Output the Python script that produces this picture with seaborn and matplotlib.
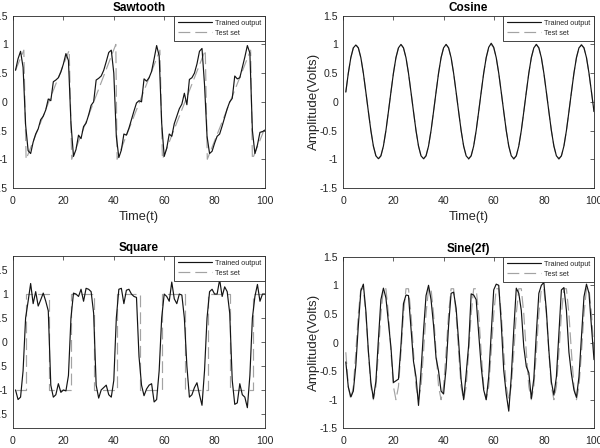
import matplotlib
matplotlib.use("Agg")
import matplotlib.pyplot as plt
import seaborn as sns

# ---------------- data ----------------
time = list(range(1, 101))

saw_trained = [0.55, 0.75, 0.88, 0.6, -0.4, -0.85, -0.9, -0.7, -0.56, -0.47,
               -0.31, -0.25, -0.14, 0.05, 0.02, 0.35, 0.38, 0.42, 0.52, 0.66,
               0.84, 0.72, -0.37, -0.95, -0.83, -0.58, -0.64, -0.43, -0.37, -0.23,
               -0.06, 0.0, 0.38, 0.41, 0.45, 0.55, 0.7, 0.86, 0.9, 0.5,
               -0.6, -0.97, -0.84, -0.56, -0.58, -0.46, -0.31, -0.16, -0.02, 0.02,
               0.0, 0.4, 0.36, 0.42, 0.53, 0.75, 0.98, 0.8, -0.37, -0.95,
               -0.81, -0.56, -0.6, -0.38, -0.25, -0.12, -0.04, 0.15, -0.05, 0.39,
               0.42, 0.5, 0.66, 0.88, 0.93, 0.3, -0.6, -0.9, -0.86, -0.72,
               -0.6, -0.56, -0.42, -0.27, -0.12, 0.0, 0.06, 0.45, 0.4, 0.42,
               0.6, 0.78, 0.98, 0.85, -0.5, -0.9, -0.75, -0.53, -0.52, -0.49]
saw_test_t = [1, 4.3, 5.2, 22.3, 23.3, 40.8, 41.3, 58.3, 59.3, 76.3, 77.1, 94.3, 95, 100]
saw_test = [0.55, 0.9, -1, 0.9, -1, 1.0, -1, 0.9, -1, 0.9, -1, 0.9, -1, -0.45]

cos_trained = [0.17, 0.5, 0.77, 0.94, 0.99, 0.94, 0.77, 0.5, 0.17, -0.17, -0.5, -0.77, -0.94, -0.99, -0.94, -0.77, -0.5, -0.17,
               0.17, 0.5, 0.77, 0.94, 1.0, 0.94, 0.77, 0.5, 0.17, -0.17, -0.5, -0.77, -0.94, -0.99, -0.94, -0.77, -0.5, -0.17,
               0.17, 0.5, 0.77, 0.94, 1.0, 0.94, 0.77, 0.5, 0.17, -0.17, -0.5, -0.77, -0.94, -0.99, -0.94, -0.77, -0.5, -0.17,
               0.17, 0.5, 0.77, 0.95, 1.02, 0.95, 0.77, 0.5, 0.17, -0.17, -0.5, -0.77, -0.94, -0.99, -0.94, -0.77, -0.5, -0.17,
               0.17, 0.5, 0.77, 0.94, 1.0, 0.94, 0.77, 0.5, 0.17, -0.17, -0.5, -0.77, -0.94, -0.99, -0.94, -0.77, -0.5, -0.17,
               0.17, 0.5, 0.77, 0.94, 0.99, 0.94, 0.77, 0.5, 0.17, -0.17]
cos_test = [0.17, 0.5, 0.77, 0.94, 1.0, 0.94, 0.77, 0.5, 0.17, -0.17, -0.5, -0.77, -0.94, -1.0, -0.94, -0.77, -0.5, -0.17,
            0.17, 0.5, 0.77, 0.94, 1.0, 0.94, 0.77, 0.5, 0.17, -0.17, -0.5, -0.77, -0.94, -1.0, -0.94, -0.77, -0.5, -0.17,
            0.17, 0.5, 0.77, 0.94, 1.0, 0.94, 0.77, 0.5, 0.17, -0.17, -0.5, -0.77, -0.94, -1.0, -0.94, -0.77, -0.5, -0.17,
            0.17, 0.5, 0.77, 0.94, 1.0, 0.94, 0.77, 0.5, 0.17, -0.17, -0.5, -0.77, -0.94, -1.0, -0.94, -0.77, -0.5, -0.17,
            0.17, 0.5, 0.77, 0.94, 1.0, 0.94, 0.77, 0.5, 0.17, -0.17, -0.5, -0.77, -0.94, -1.0, -0.94, -0.77, -0.5, -0.17,
            0.17, 0.5, 0.77, 0.94, 1.0, 0.94, 0.77, 0.5, 0.17, -0.17]

sq_trained = [-1.0, -1.2, -1.15, -0.6, 0.5, 0.85, 1.22, 0.8, 1.05, 0.75,
              0.88, 1.02, 0.85, 0.65, -0.9, -1.15, -1.1, -0.87, -1.05, -1.0,
              -1.02, -0.7, 0.5, 1.02, 1.0, 0.95, 1.1, 0.85, 1.12, 1.1,
              1.05, 0.6, -0.9, -1.17, -1.0, -0.95, -0.9, -1.1, -1.15, -0.8,
              0.5, 1.1, 1.12, 0.8, 1.08, 1.1, 1.0, 0.95, 0.93, -0.3,
              -0.9, -1.12, -0.98, -0.9, -0.87, -1.25, -1.2, -0.6, 0.5, 1.0,
              0.95, 0.85, 1.25, 0.9, 0.8, 1.0, 0.98, 0.5, -0.5, -1.15,
              -1.1, -0.95, -0.85, -1.1, -1.32, -0.6, 0.5, 1.05, 1.1, 1.0,
              1.0, 1.3, 0.95, 1.15, 1.05, 0.6, -0.8, -1.3, -1.27, -0.87,
              -1.1, -1.15, -1.37, -0.7, 0.5, 0.95, 1.2, 0.85, 1.0, 1.0]
sq_test_t = [1, 5.2, 5.2, 14.3, 14.3, 23.2, 23.2, 32.2, 32.2, 41.2, 41.2, 50.2,
             50.2, 59.2, 59.2, 68.2, 68.2, 77.2, 77.2, 86.2, 86.2, 95.2, 95.2, 100]
sq_test = [-1, -1, 1, 1, -1, -1, 1, 1, -1, -1, 1, 1,
           -1, -1, 1, 1, -1, -1, 1, 1, -1, -1, 1, 1]

sin_trained = [-0.34, -0.78, -0.95, -0.85, -0.4, 0.3, 0.9, 1.02, 0.55, -0.15,
               -0.7, -0.98, -0.68, 0.05, 0.75, 0.95, 0.78, 0.35, -0.08, -0.7,
               -0.67, -0.64, -0.05, 0.68, 0.83, 0.82, 0.25, -0.33, -0.6, -1.1,
               -0.5, 0.2, 0.82, 1.0, 0.75, 0.3, -0.27, -0.5, -0.85, -0.9,
               -0.45, 0.3, 0.86, 0.88, 0.6, 0.02, -0.65, -1.0, -0.55, -0.05,
               0.85, 0.83, 0.75, 0.16, -0.42, -0.83, -1.0, -0.6, 0.16, 0.92,
               1.02, 1.0, 0.33, -0.49, -0.9, -1.2, -0.6, 0.22, 0.95, 0.86,
               0.56, -0.08, -0.42, -0.53, -0.98, -0.63, 0.16, 0.86, 1.0, 1.05,
               0.56, -0.14, -0.69, -0.92, -0.6, 0.16, 0.92, 0.96, 0.56, -0.17,
               -0.55, -0.83, -0.96, -0.6, 0.1, 0.8, 1.02, 0.86, 0.27, -0.3]
sin_test = [-0.17, -0.77, -1.0, -0.77, -0.17, 0.5, 0.94, 0.94, 0.5,
            -0.17, -0.77, -1.0, -0.77, -0.17, 0.5, 0.94, 0.94, 0.5,
            -0.17, -0.77, -1.0, -0.77, -0.17, 0.5, 0.94, 0.94, 0.5,
            -0.17, -0.77, -1.0, -0.77, -0.17, 0.5, 0.94, 0.94, 0.5,
            -0.17, -0.77, -1.0, -0.77, -0.17, 0.5, 0.94, 0.94, 0.5,
            -0.17, -0.77, -1.0, -0.77, -0.17, 0.5, 0.94, 0.94, 0.5,
            -0.17, -0.77, -1.0, -0.77, -0.17, 0.5, 0.94, 0.94, 0.5,
            -0.17, -0.77, -1.0, -0.77, -0.17, 0.5, 0.94, 0.94, 0.5,
            -0.17, -0.77, -1.0, -0.77, -0.17, 0.5, 0.94, 0.94, 0.5,
            -0.17, -0.77, -1.0, -0.77, -0.17, 0.5, 0.94, 0.94, 0.5,
            -0.17, -0.77, -1.0, -0.77, -0.17, 0.5, 0.94, 0.94, 0.5,
            -0.17]

titles = ["Sawtooth", "Cosine", "Square", "Sine(2f)"]
legend_labels = ["Trained output", "Test set"]
x_ticks = [0, 20, 40, 60, 80, 100]
x_tick_labels = ["0", "20", "40", "60", "80", "100"]
y_ticks = [-1.5, -1, -0.5, 0, 0.5, 1, 1.5]
y_tick_labels = ["-1.5", "-1", "-0.5", "0", "0.5", "1", "1.5"]
x_label = "Time(t)"
y_label = "Amplitude(Volts)"

# ---------------- style ----------------
sns.set_style("white")
plt.rcParams["font.family"] = ["Liberation Sans", "DejaVu Sans"]
plt.rcParams["lines.scale_dashes"] = False

AX_COL = "#262626"
fig = plt.figure(figsize=(6, 4.48), dpi=100)

W, H = 600.0, 448.0
boxes = [
    (13.0, 15.7, 265.0, 188.0),
    (343.3, 15.7, 594.0, 188.0),
    (13.0, 255.7, 265.0, 428.3),
    (343.3, 256.7, 594.0, 428.3),
]


def make_ax(box):
    x0, y0, x1, y1 = box
    return fig.add_axes([x0 / W, 1 - y1 / H, (x1 - x0) / W, (y1 - y0) / H])


def draw(ax, xt, yt, xs, ys, title, ylim, xlabel=None, ylabel=None):
    sns.lineplot(x=xt, y=yt, ax=ax, color="#141414", linewidth=0.85,
                 label=legend_labels[0], estimator=None, sort=False, zorder=3)
    sns.lineplot(x=xs, y=ys, ax=ax, color="#a3a3a3", linewidth=0.85,
                 linestyle=(0, (8.5, 3.6)), label=legend_labels[1],
                 estimator=None, sort=False, zorder=2)
    ax.set_xlim(0, 100)
    ax.set_ylim(*ylim)
    ax.set_xticks(x_ticks)
    ax.set_xticklabels(x_tick_labels)
    ax.set_yticks(y_ticks)
    ax.set_yticklabels(y_tick_labels)
    ax.tick_params(direction="in", length=3, width=0.5, top=True, right=True,
                   labelsize=7.6, color=AX_COL, labelcolor=AX_COL)
    ax.tick_params(axis="x", pad=5.5)
    ax.tick_params(axis="y", pad=3.8)
    for s in ax.spines.values():
        s.set_visible(True)
        s.set_color(AX_COL)
        s.set_linewidth(0.6)
    ax.set_title(title, fontsize=8.5, fontweight="bold", pad=3.5, color="black")
    if xlabel:
        ax.set_xlabel(xlabel, fontsize=9.2, color=AX_COL, labelpad=4)
    else:
        ax.set_xlabel("")
    if ylabel:
        ax.set_ylabel(ylabel, fontsize=9.6, color=AX_COL, labelpad=0.3)
    else:
        ax.set_ylabel("")
    leg = ax.legend(loc="upper right", borderaxespad=0, fancybox=False,
                    fontsize=5.2, handlelength=4.6, handletextpad=0.45,
                    labelspacing=0.4, borderpad=0.55, framealpha=1)
    leg.get_frame().set_edgecolor(AX_COL)
    leg.get_frame().set_linewidth(0.6)
    for t in leg.get_texts():
        t.set_color(AX_COL)


ax1 = make_ax(boxes[0])
draw(ax1, time, saw_trained, saw_test_t, saw_test, titles[0], (-1.5, 1.5), xlabel=x_label)
ax2 = make_ax(boxes[1])
draw(ax2, time, cos_trained, time, cos_test, titles[1], (-1.5, 1.5), xlabel=x_label, ylabel=y_label)
ax3 = make_ax(boxes[2])
draw(ax3, time, sq_trained, sq_test_t, sq_test, titles[2], (-1.8, 1.8))
ax4 = make_ax(boxes[3])
draw(ax4, time, sin_trained, time, sin_test, titles[3], (-1.5, 1.5), ylabel=y_label)

fig.savefig("out.png", dpi=100, facecolor="white")
